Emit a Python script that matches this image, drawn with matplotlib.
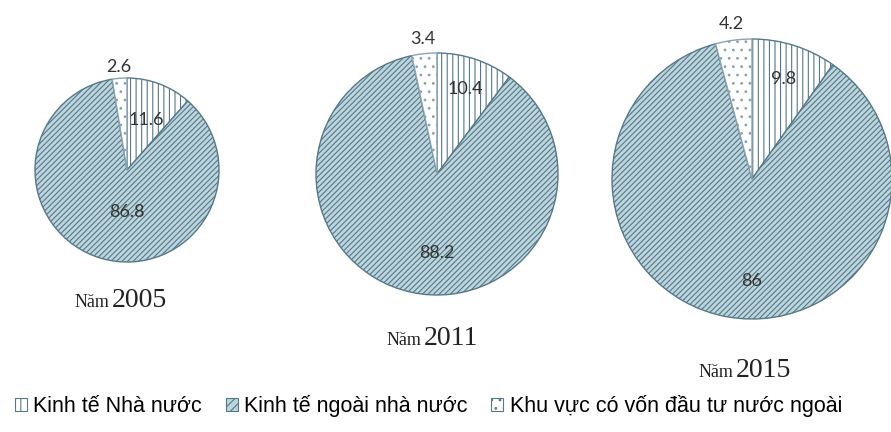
import numpy as np
import matplotlib
matplotlib.use("Agg")
import matplotlib.pyplot as plt
from matplotlib.patches import Patch

# share of each sector (%), per year
years = ["2005", "2011", "2015"]
state = [11.6, 10.4, 9.8]
non_state = [86.8, 88.2, 86.0]
foreign = [2.6, 3.4, 4.2]
value_labels = [["11.6", "86.8", "2.6"], ["10.4", "88.2", "3.4"], ["9.8", "86", "4.2"]]
legend_labels = ["Kinh tế Nhà nước", "Kinh tế ngoài nhà nước", "Khu vực có vốn đầu tư nước ngoài"]

W, H = 891, 432
# layout in pixel coords (x, y from top)
centers = [(127, 170), (437, 174), (752, 179)]
radii = [92, 121, 140]
state_r = [0.58, 0.74, 0.75]
non_state_r = [0.46, 0.65, 0.73]
year_pos = [(109, 307), (421, 345), (733, 377)]

EDGE = "#55788a"
fills = ["white", "#bdd5dc", "white"]
hatches = ["|||", "//////", ".."]
plt.rcParams["hatch.linewidth"] = 0.8

fig = plt.figure(figsize=(W / 100, H / 100), dpi=100)
ax = fig.add_axes([0, 0, 1, 1])

for i in range(3):
    vals = [state[i], non_state[i], foreign[i]]
    cx, cy = centers[i][0], H - centers[i][1]
    wedges, _ = ax.pie(vals, center=(cx, cy), radius=radii[i], startangle=90,
                       counterclock=False, colors=fills,
                       wedgeprops=dict(edgecolor=EDGE, linewidth=1.0))
    for w, h in zip(wedges, hatches):
        w.set_hatch(h)
    wedges[2].set_edgecolor("#8aa3b0")

    total = sum(vals)
    # state slice label
    a = np.deg2rad(90 - 360 * state[i] / total / 2)
    r = state_r[i] * radii[i]
    ax.text(cx + r * np.cos(a), cy + r * np.sin(a), value_labels[i][0],
            ha="center", va="center", fontsize=13, color="#333333", family="Lato")
    # non-state slice label, straight below centre
    r = non_state_r[i] * radii[i]
    ax.text(cx, cy - r, value_labels[i][1], ha="center", va="center",
            fontsize=13, color="#333333", family="Lato")
    # foreign slice label, outside on top
    a = np.deg2rad(90 + 360 * foreign[i] / total / 2)
    r = 1.12 * radii[i]
    ax.text(cx + r * np.cos(a), cy + r * np.sin(a), value_labels[i][2],
            ha="center", va="center", fontsize=13, color="#333333", family="Lato")

    yx, yy = year_pos[i]
    ax.text(yx, H - yy, "Năm", ha="right", va="baseline", fontsize=13,
            family="Liberation Serif", color="#222222")
    ax.text(yx + 3, H - yy, years[i], ha="left", va="baseline", fontsize=20,
            family="Liberation Serif", color="#222222")

ax.set_xlim(0, W)
ax.set_ylim(0, H)
ax.set_aspect("equal")
ax.axis("off")

handles = [Patch(facecolor=f, edgecolor=EDGE, hatch=h, linewidth=0.8)
           for f, h in zip(fills, ["||", "////", ".."])]
fig.legend(handles, legend_labels, loc="lower left", bbox_to_anchor=(0.0, 0.0),
           borderaxespad=0.3, ncol=3, frameon=False, handlelength=0.55,
           handleheight=0.55, handletextpad=0.3, columnspacing=1.1,
           prop={"family": "Liberation Sans", "size": 15.5})

fig.savefig("out.png", dpi=100)
